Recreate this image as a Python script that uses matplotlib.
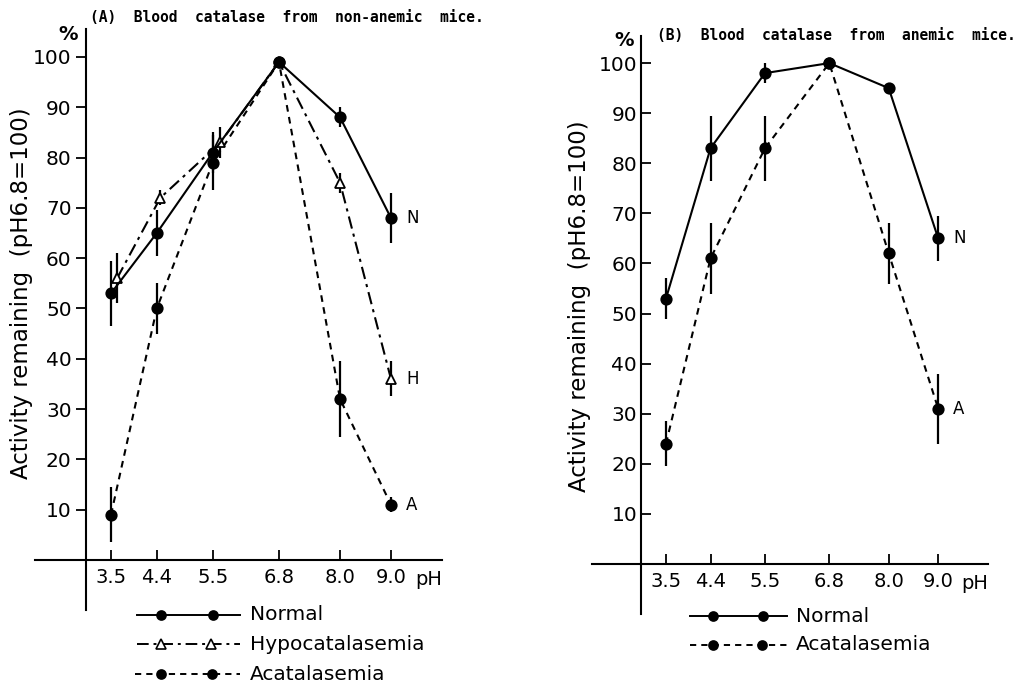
import matplotlib.pyplot as plt
from matplotlib.lines import Line2D

ph = [3.5, 4.4, 5.5, 6.8, 8.0, 9.0]
ph_labels = ["3.5", "4.4", "5.5", "6.8", "8.0", "9.0"]
y_ticks = [10, 20, 30, 40, 50, 60, 70, 80, 90, 100]

# (A) non-anemic mice
a_normal = [53, 65, 81, 99, 88, 68]
a_normal_err = [6.5, 4.5, 4, 0, 2, 5]
a_hypo = [56, 72, 83, 99, 75, 36]
a_hypo_err = [5, 1.5, 3, 0, 2, 3.5]
a_hypo_shift = [0.12, 0.07, 0.15, 0, 0, 0]   # nudged right so the bars don't overlap
a_acat = [9, 50, 79, 99, 32, 11]
a_acat_err = [5.5, 5, 5.5, 0, 7.5, 1.5]

# (B) anemic mice
b_normal = [53, 83, 98, 100, 95, 65]
b_normal_err = [4, 6.5, 2, 0, 1, 4.5]
b_acat = [24, 61, 83, 100, 62, 31]
b_acat_err = [4.5, 7, 6.5, 0, 6, 7]

W, H = 1019, 687
fig = plt.figure(figsize=(W / 100, H / 100), dpi=100)

dash_short = (0, (3.2, 2.6))
dash_dot = (0, (6, 2.5, 1.5, 2.5))


def frame(ax, tick_dir, ylab_y):
    ax.set_xlim(2.0, 10.0)
    ax.set_ylim(-10, 106)
    for s in ("top", "right"):
        ax.spines[s].set_visible(False)
    ax.spines["left"].set_position(("data", 3.0))
    ax.spines["bottom"].set_position(("data", 0))
    ax.spines["left"].set_bounds(-10, 105.5)
    ax.spines["bottom"].set_bounds(2.0, 10.0)
    for s in ("left", "bottom"):
        ax.spines[s].set_linewidth(1.5)
    ax.set_xticks(ph)
    ax.set_xticklabels(ph_labels)
    ax.set_yticks(y_ticks)
    ax.tick_params(axis="x", direction="in", length=7, width=1.3, pad=6, labelsize=14)
    ax.tick_params(axis="y", direction=tick_dir, length=7, width=1.3, pad=3, labelsize=14.5)
    ax.patch.set_alpha(0)
    ax.text(10.0, -2.0, "pH", ha="right", va="top", fontsize=14)
    ax.text(2.85, 104.5, "%", ha="right", va="center", fontsize=14, fontweight="bold")
    ax.text(1.75, ylab_y, "Activity remaining  (pH6.8=100)", rotation=90,
            ha="center", va="center", fontsize=16.5)


def series(ax, x, y, err, ls, marker, mfc):
    ax.errorbar(x, y, yerr=err, color="black", lw=1.5, ls=ls,
                marker=marker, ms=7.5, mfc=mfc, mec="black", mew=1.3,
                elinewidth=1.6, capsize=0)


# ---- panel A
axA = fig.add_axes([0.0340, 0.1117, 0.3996, 0.8493])
frame(axA, "out", 53)
series(axA, ph, a_acat, a_acat_err, dash_short, "o", "black")
series(axA, [p + d for p, d in zip(ph, a_hypo_shift)], a_hypo, a_hypo_err,
       dash_dot, "^", "white")
series(axA, ph, a_normal, a_normal_err, "-", "o", "black")
axA.text(9.3, a_normal[-1], "N", fontsize=12, va="center", family="DejaVu Sans Condensed")
axA.text(9.3, a_hypo[-1], "H", fontsize=12, va="center", family="DejaVu Sans Condensed")
axA.text(9.3, a_acat[-1], "A", fontsize=12, va="center", family="DejaVu Sans Condensed")
fig.text(90 / W, 1 - 17 / H, "(A)  Blood  catalase  from  non-anemic  mice.",
         fontsize=10.5, family="DejaVu Sans Mono", fontweight="bold", va="center")

# ---- panel B
axB = fig.add_axes([0.5807, 0.1061, 0.3886, 0.8458])
frame(axB, "in", 51.5)
series(axB, ph, b_acat, b_acat_err, dash_short, "o", "black")
series(axB, ph, b_normal, b_normal_err, "-", "o", "black")
axB.text(9.3, b_normal[-1], "N", fontsize=12, va="center", family="DejaVu Sans Condensed")
axB.text(9.3, b_acat[-1], "A", fontsize=12, va="center", family="DejaVu Sans Condensed")
fig.text(657 / W, 1 - 36 / H, "(B)  Blood  catalase  from  anemic  mice.",
         fontsize=10.5, family="DejaVu Sans Mono", fontweight="bold", va="center")


# ---- legends under each panel, drawn in figure pixels
def key(x0, x1, marks, y, ls, marker, mfc, label, tx):
    fy = 1 - y / H
    fig.add_artist(Line2D([x0 / W, x1 / W], [fy, fy], color="black", lw=1.4, ls=ls))
    fig.add_artist(Line2D([m / W for m in marks], [fy] * len(marks), ls="none",
                          marker=marker, ms=6.5, mfc=mfc, mec="black", mew=1.2,
                          color="black"))
    fig.text(tx / W, fy, label, fontsize=14.5, va="center")


key(137, 240, [161, 213], 615, "-", "o", "black", "Normal", 250)
key(137, 240, [161, 211], 644, dash_dot, "^", "white", "Hypocatalasemia", 250)
key(135, 240, [161, 212], 674, dash_short, "o", "black", "Acatalasemia", 250)

key(690, 787, [713, 763], 616, "-", "o", "black", "Normal", 796)
key(690, 787, [713, 762], 645, dash_short, "o", "black", "Acatalasemia", 796)

fig.savefig("out.png", dpi=100)
